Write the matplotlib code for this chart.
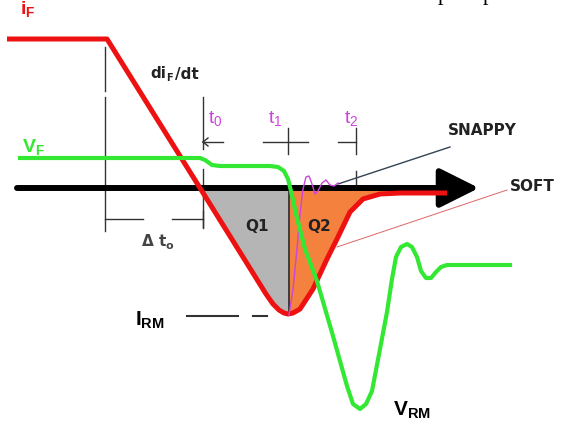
import numpy as np
import matplotlib
matplotlib.use("Agg")
import matplotlib.pyplot as plt

plt.rcParams['font.family'] = ['Liberation Sans', 'DejaVu Sans']
plt.rcParams['mathtext.fontset'] = 'custom'
plt.rcParams['mathtext.rm'] = 'Liberation Sans'
plt.rcParams['mathtext.it'] = 'Liberation Sans'
plt.rcParams['mathtext.bf'] = 'Liberation Sans:bold'

# ---- data (picture coordinates, y grows downward) ----
axis_y = 189
# forward / reverse current i_F
red_x = [7, 107, 200, 266, 273, 279, 284, 288, 293, 300, 313, 327, 337, 350, 363, 380, 400, 447]
red_y = [40, 40, 189, 295, 305, 311, 314, 315, 314, 310, 290, 260, 240, 213, 200, 195, 194, 194]
# voltage V_F
green_x = [20, 200, 205, 212, 220, 270, 278, 284, 288, 291, 296, 305, 317, 333, 347, 353,
           360, 366, 372, 380, 387, 392, 396, 401, 407, 412, 417, 421, 426, 431, 436, 441, 447, 510]
green_y = [159, 159, 161, 166, 167, 167, 168, 172, 180, 192, 215, 250, 282, 337, 387, 405,
           410, 405, 392, 350, 313, 280, 258, 248, 245, 248, 258, 272, 279, 279, 273, 268, 266, 266]
# snappy recovery (magenta)
mag_x = [289, 293, 297, 300, 303, 306, 309, 312, 315, 318, 322, 326, 330, 334, 338]
mag_y = [316, 290, 250, 215, 190, 178, 177, 185, 195, 192, 184, 181, 186, 187, 184]
# time marks
t0_x, t1_x, t2_x = 203, 288, 356
t_labels = [r'$\mathregular{t_0}$', r'$\mathregular{t_1}$', r'$\mathregular{t_2}$']

RED = '#ee1111'
GREEN = '#33e833'
MAG = '#cc44dd'
DARK = '#222222'
LBL = dict(family='DejaVu Sans', fontweight='bold', color=DARK)

fig = plt.figure(figsize=(5.66, 4.31), dpi=100)
ax = fig.add_axes([0, 0, 1, 1])
ax.set_xlim(0, 566)
ax.set_ylim(431, 0)
ax.axis('off')

# fills Q1 / Q2
xs1 = np.linspace(200, t1_x + 1, 100)
ax.fill_between(xs1, axis_y, np.interp(xs1, red_x, red_y), color='#b5b5b5', lw=0, zorder=1)
xs2 = np.linspace(t1_x + 1, 420, 150)
ax.fill_between(xs2, axis_y, np.interp(xs2, red_x, red_y), color='#f4823e', lw=0, zorder=1)

# time axis arrow
ax.annotate('', xy=(479, axis_y), xytext=(17, axis_y),
            arrowprops=dict(arrowstyle='-|>,head_length=1.1,head_width=0.55', lw=4.3,
                            color='black', mutation_scale=22, shrinkA=0, shrinkB=0), zorder=3)

# construction lines
lk = dict(color='#333333', lw=1.0, zorder=2)
ax.plot([105, 105], [48, 92], **lk)
ax.plot([105, 105], [98, 232], **lk)
ax.plot([t0_x, t0_x], [98, 150], **lk)
ax.plot([t0_x, t0_x], [170, 228], **lk)
ax.plot([t1_x + 1, t1_x + 1], [axis_y, 316], color='#333333', lw=1.3, zorder=2)
# delta t0
ax.plot([105, 143], [220, 220], **lk)
ax.plot([172, t0_x], [220, 220], **lk)
ax.plot([t0_x, t0_x], [212, 229], **lk)
# t markers
ax.plot([t0_x, 223], [143, 143], **lk)
ax.plot([t0_x, t0_x + 5], [143, 139], **lk)
ax.plot([t0_x, t0_x + 5], [143, 147], **lk)
ax.plot([263, 308], [143, 143], **lk)
ax.plot([t1_x, t1_x], [129, 155], **lk)
ax.plot([338, t2_x], [143, 143], **lk)
ax.plot([t2_x, t2_x], [129, 155], **lk)
ax.plot([t2_x, t2_x], [172, axis_y], **lk)
# I_RM dashed level
ax.plot([187, 238], [317, 317], color='#333333', lw=1.5, zorder=2)
ax.plot([253, 267], [317, 317], color='#333333', lw=1.5, zorder=2)
# leader lines
ax.plot([338, 450], [185, 148], color='#334455', lw=1.0, zorder=4)
ax.plot([337, 507], [248, 191], color='#dd6666', lw=0.7, zorder=4)

# curves
ax.plot(red_x, red_y, color=RED, lw=3.6, solid_joinstyle='round', solid_capstyle='butt', zorder=4)
ax.plot(mag_x, mag_y, color=MAG, lw=1.0, zorder=5)
ax.plot(green_x, green_y, color=GREEN, lw=3.0, solid_joinstyle='round', zorder=5)

# texts
ax.text(20, 9, r'$\mathbf{i_F}$', color=RED, fontsize=14, ha='left', va='center')
ax.text(150, 74, 'di', fontsize=11, ha='left', va='center', **LBL)
ax.text(166, 78, 'F', fontsize=7, ha='left', va='center', **LBL)
ax.text(175, 74, '/dt', fontsize=11, ha='left', va='center', **LBL)
ax.text(22, 147, r'$\mathbf{V_F}$', color=GREEN, fontsize=14, ha='left', va='center')
for x, lab in zip([208, 268, 344], t_labels):
    ax.text(x, 119, lab, color=MAG, fontsize=14, ha='left', va='center')
ax.text(448, 131, 'SNAPPY', fontsize=11, ha='left', va='center', **LBL)
ax.text(510, 187, 'SOFT', fontsize=11, ha='left', va='center', **LBL)
ax.text(257, 227, 'Q1', fontsize=11, ha='center', va='center', **LBL)
ax.text(319, 227, 'Q2', fontsize=11, ha='center', va='center', **LBL)
ax.text(154, 242, 'Δ t', fontsize=11, ha='center', va='center', family='DejaVu Sans',
        fontweight='bold', color='#444444')
ax.text(165, 246, 'o', fontsize=8, ha='left', va='center', family='DejaVu Sans',
        fontweight='bold', color='#444444')
ax.text(135, 320, r'$\mathbf{I_{RM}}$', color='black', fontsize=15, ha='left', va='center')
ax.text(393, 410, r'$\mathbf{V_{RM}}$', color='black', fontsize=15, ha='left', va='center')
# clipped serif text at top edge
ax.text(443, 0, 'p', family='Liberation Serif', fontsize=16, ha='center', va='baseline', color='black')
ax.text(488, 0, 'p', family='Liberation Serif', fontsize=16, ha='center', va='baseline', color='black')

fig.savefig('out.png', dpi=100)
